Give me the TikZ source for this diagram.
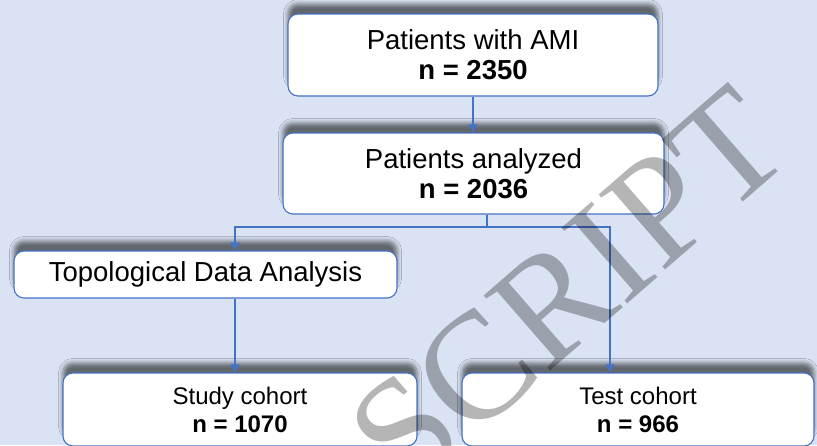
\documentclass[tikz,border=0pt]{standalone}
\usepackage{fontspec}
\setmainfont{Liberation Sans}
\newfontfamily\wmfont{Liberation Serif}
\usetikzlibrary{arrows.meta,shadows.blur}
\definecolor{pagebg}{HTML}{DAE3F3}
\definecolor{edgeblue}{HTML}{4472C4}
\tikzset{
  flowbox/.style={draw=edgeblue, line width=1.1pt, fill=white, rounded corners=10pt,
    align=center, inner sep=0pt,
    blur shadow={shadow xshift=0pt, shadow yshift=10pt, shadow blur radius=4.5pt, shadow opacity=55}},
  bigtext/.style={font=\fontsize{27.5}{30}\selectfont},
  smalltext/.style={font=\fontsize{24}{28}\selectfont},
  conn/.style={draw=edgeblue, line width=1.1pt},
  arr/.style={-{Triangle[length=8pt,width=9pt]}},
}
\begin{document}
\begin{tikzpicture}[x=1pt,y=-1pt]
\useasboundingbox (0,0) rectangle (817,445);
\fill[pagebg] (0,0) rectangle (817,445);
\begin{scope}
\clip (0,0) rectangle (817,445);

% boxes
\node[flowbox,bigtext,minimum width=370pt,minimum height=82pt] (b1) at (473,55)
  {Patients with AMI\\\textbf{n = 2350}};
\node[flowbox,bigtext,minimum width=381pt,minimum height=81pt] (b2) at (473.5,173.5)
  {Patients analyzed\\\textbf{n = 2036}};
\node[flowbox,bigtext,minimum width=383pt,minimum height=47pt] (tda) at (205.5,274.5)
  {Topological Data Analysis};
\node[flowbox,smalltext,minimum width=354pt,minimum height=73pt] (study) at (240,409.5)
  {Study cohort\\\textbf{n = 1070}};
\node[flowbox,smalltext,minimum width=352pt,minimum height=73pt] (test) at (638,409.5)
  {Test cohort\\\textbf{n = 966}};

% junction points of the split
\coordinate (j) at (487,227);
\coordinate (jl) at (235,227);
\coordinate (jr) at (610,227);

% connectors
\draw[conn,arr] (b1.south) -- (b1.south |- b2.north);
\draw[conn] (b2.south -| j) -- (j);
\draw[conn,arr] (j) -- (jl) -- (tda.north -| jl);
\draw[conn,arr] (j) -- (jr) -- (test.north -| jr);
\draw[conn,arr] (tda.south -| jl) -- (study.north -| jl);

% watermark
\node[rotate=41, text=black, text opacity=0.29, inner sep=0pt,
  font=\wmfont\fontsize{153}{153}\selectfont] (wm) at (568,289) {SCRIPT};
\end{scope}
\end{tikzpicture}
\end{document}
